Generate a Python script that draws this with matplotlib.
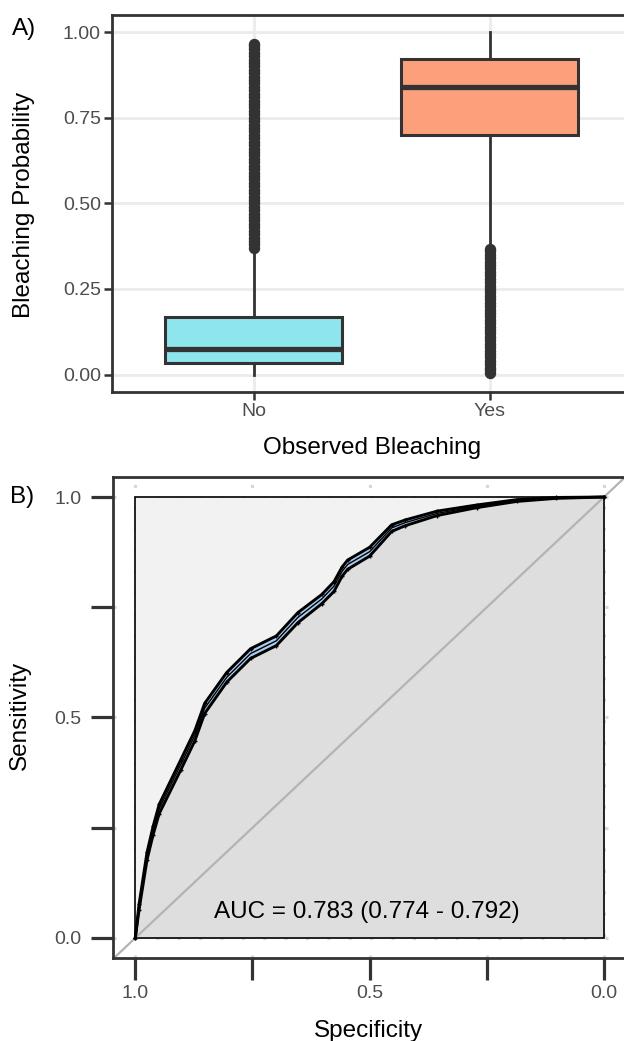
import matplotlib
matplotlib.use('Agg')
import matplotlib.pyplot as plt
from matplotlib.patches import Rectangle

plt.rcParams['font.family'] = ['Liberation Sans', 'DejaVu Sans']

# ---------------- data: panel A (boxplot) ----------------
categories = ['No', 'Yes']
box_q1 = [0.034, 0.701]
box_med = [0.074, 0.840]
box_q3 = [0.168, 0.922]
whisk_lo = [0.000, 0.372]
whisk_hi = [0.364, 1.000]
box_colors = ['#8ee5ee', '#fca07b']
no_outliers = [0.370, 0.380, 0.390, 0.400, 0.410, 0.420, 0.430, 0.440, 0.450,
               0.460, 0.470, 0.480, 0.490, 0.500, 0.510, 0.520, 0.530, 0.540,
               0.550, 0.560, 0.570, 0.580, 0.590, 0.600, 0.610, 0.620, 0.630,
               0.640, 0.650, 0.660, 0.670, 0.680, 0.690, 0.700, 0.710, 0.720,
               0.730, 0.740, 0.750, 0.760, 0.770, 0.780, 0.790, 0.800, 0.810,
               0.820, 0.830, 0.840, 0.850, 0.860, 0.870, 0.880, 0.890, 0.900,
               0.910, 0.920, 0.930, 0.940, 0.950, 0.960, 0.966]
yes_outliers = [0.004, 0.012, 0.020, 0.030, 0.040, 0.050, 0.060, 0.070, 0.080,
                0.090, 0.100, 0.110, 0.120, 0.130, 0.140, 0.150, 0.160, 0.170,
                0.180, 0.190, 0.200, 0.210, 0.220, 0.230, 0.240, 0.250, 0.260,
                0.270, 0.280, 0.290, 0.300, 0.310, 0.320, 0.330, 0.340, 0.350,
                0.360, 0.368]
a_yticks = [0.00, 0.25, 0.50, 0.75, 1.00]
a_yticklabels = ['0.00', '0.25', '0.50', '0.75', '1.00']

# ---------------- data: panel B (ROC) ----------------
specificity = [1.000, 0.992, 0.975, 0.962, 0.949, 0.903, 0.873, 0.852, 0.805,
               0.754, 0.699, 0.653, 0.602, 0.576, 0.559, 0.547, 0.500, 0.453,
               0.424, 0.356, 0.271, 0.186, 0.102, 0.000]
sensitivity = [0.000, 0.070, 0.186, 0.244, 0.293, 0.393, 0.459, 0.521, 0.591,
               0.645, 0.674, 0.727, 0.769, 0.798, 0.831, 0.847, 0.876, 0.930,
               0.942, 0.963, 0.979, 0.992, 0.998, 1.000]
sens_lower = [0.000, 0.064, 0.177, 0.234, 0.282, 0.381, 0.447, 0.509, 0.580,
              0.634, 0.663, 0.715, 0.758, 0.786, 0.820, 0.836, 0.866, 0.922,
              0.935, 0.958, 0.976, 0.990, 0.997, 1.000]
sens_upper = [0.000, 0.076, 0.194, 0.253, 0.303, 0.404, 0.470, 0.532, 0.602,
              0.656, 0.685, 0.738, 0.779, 0.808, 0.841, 0.857, 0.886, 0.937,
              0.948, 0.968, 0.982, 0.994, 0.999, 1.000]
b_ticks = [0.0, 0.25, 0.5, 0.75, 1.0]
b_ticklabels = ['0.0', '', '0.5', '', '1.0']
auc_text = 'AUC = 0.783 (0.774 - 0.792)'

# ---------------- figure ----------------
W, H = 624, 1041
fig = plt.figure(figsize=(W / 100, H / 100), dpi=100)


def fx(px):
    return px / W


def fy(py):
    return 1 - py / H


DARK = '#333333'
TICKC = '#4d4d4d'

# ---------- Panel A ----------
axA = fig.add_axes([fx(112), fy(391.7), (631.6 - 112) / W, (391.7 - 15) / H])
stats = []
for i, cat in enumerate(categories):
    stats.append(dict(label=cat, med=box_med[i], q1=box_q1[i], q3=box_q3[i],
                      whislo=whisk_lo[i], whishi=whisk_hi[i],
                      fliers=[no_outliers, yes_outliers][i]))
bp = axA.bxp(stats, positions=[1, 2], widths=0.75, patch_artist=True,
             showcaps=False,
             boxprops=dict(edgecolor=DARK, linewidth=2.2),
             medianprops=dict(color=DARK, linewidth=3.8, solid_capstyle='butt'),
             whiskerprops=dict(color=DARK, linewidth=2.0),
             flierprops=dict(marker='o', markerfacecolor=DARK,
                             markeredgecolor=DARK, markersize=7.2, linestyle='none'))
for patch, c in zip(bp['boxes'], box_colors):
    patch.set_facecolor(c)
axA.set_xlim(0.4, 2.6)
axA.set_ylim(-0.05, 1.05)
axA.set_xticks([1, 2])
axA.set_xticklabels(categories)
axA.set_yticks(a_yticks)
axA.set_yticklabels(a_yticklabels)
axA.grid(True, color='#ebebeb', linewidth=2)
axA.set_axisbelow(True)
for s in axA.spines.values():
    s.set_color(DARK)
    s.set_linewidth(2)
axA.tick_params(axis='both', colors=DARK, labelcolor=TICKC, labelsize=14,
                length=5.5, width=1.8, pad=2.5)

fig.text(fx(24), fy(205), 'Bleaching Probability', rotation=90,
         ha='center', va='center', fontsize=17.5)
fig.text(fx(372), fy(448), 'Observed Bleaching', ha='center', va='center',
         fontsize=17.5)
fig.text(fx(24), fy(29), 'A)', ha='center', va='center', fontsize=17.5)

# ---------- Panel B ----------
axB = fig.add_axes([fx(112.6), fy(958), (626.5 - 112.6) / W, (958 - 476.6) / H])
axB.set_xlim(1.0484, -0.048)
axB.set_ylim(-0.0454, 1.0463)
axB.grid(True, color='#d6d6d6', linestyle=(0, (1, 6)), linewidth=2.2)
axB.set_axisbelow(True)
axB.add_patch(Rectangle((0, 0), 1, 1, facecolor='#f2f2f2', edgecolor='none',
                        zorder=1))
axB.fill_between(specificity, 0, sensitivity, color='#dedede', zorder=1.5,
                 linewidth=0)
axB.add_patch(Rectangle((0, 0), 1, 1, fill=False, edgecolor='black',
                        linewidth=1.2, zorder=2))
axB.axline((1, 0), (0, 1), color='#b3b3b3', linewidth=1.6, zorder=2.5)
axB.fill_between(specificity, sens_lower, sens_upper, color='#a9cdf0',
                 zorder=3, linewidth=0)
axB.plot(specificity, sens_lower, color='black', linewidth=2.1, marker='+',
         markersize=3.5, zorder=4, solid_joinstyle='round')
axB.plot(specificity, sens_upper, color='black', linewidth=2.1, marker='+',
         markersize=3.5, zorder=4, solid_joinstyle='round')
axB.plot(specificity, sensitivity, color='black', linewidth=1.0, zorder=4)
axB.text(0.505, 0.060, auc_text, ha='center', va='center', fontsize=17.5,
         zorder=5)
axB.set_xticks(b_ticks)
axB.set_xticklabels(b_ticklabels)
axB.set_yticks(b_ticks)
axB.set_yticklabels(b_ticklabels)
for s in axB.spines.values():
    s.set_color(DARK)
    s.set_linewidth(2)
axB.tick_params(axis='both', colors=DARK, labelcolor=TICKC, labelsize=14,
                length=16, width=2.3)
axB.tick_params(axis='y', pad=6.5)
axB.tick_params(axis='x', pad=3.8)

fig.text(fx(20), fy(715), 'Sensitivity', rotation=90, ha='center',
         va='center', fontsize=17.5)
fig.text(fx(368), fy(1031), 'Specificity', ha='center', va='center',
         fontsize=17.5)
fig.text(fx(22), fy(497), 'B)', ha='center', va='center', fontsize=17.5)

fig.savefig('out.png', dpi=100)
